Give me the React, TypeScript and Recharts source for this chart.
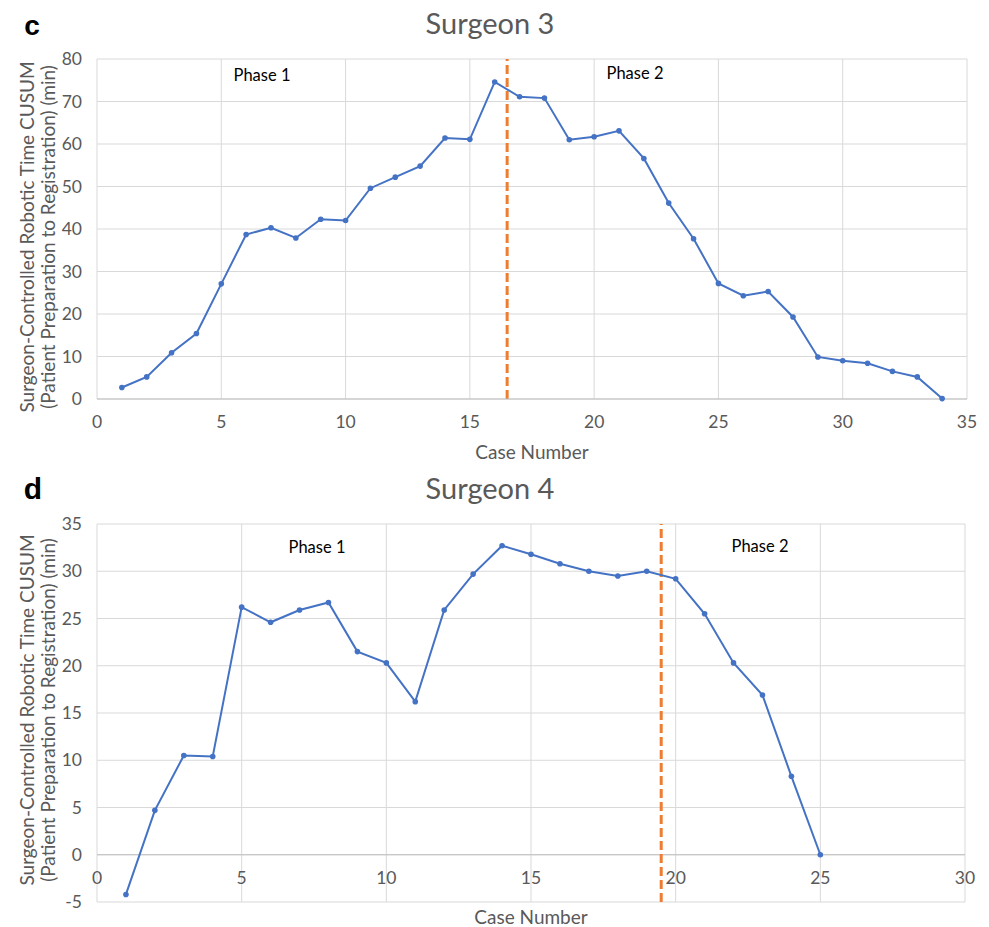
import { LineChart, Line, XAxis, YAxis, CartesianGrid, ReferenceLine, Label } from 'recharts';

// Surgeon 3
const cases3 = [1, 2, 3, 4, 5, 6, 7, 8, 9, 10, 11, 12, 13, 14, 15, 16, 17, 18, 19, 20, 21, 22, 23, 24, 25, 26, 27, 28, 29, 30, 31, 32, 33, 34];
const cusum3 = [2.7, 5.2, 10.9, 15.4, 27.1, 38.7, 40.3, 37.9, 42.3, 42.0, 49.6, 52.2, 54.8, 61.4, 61.1, 74.6, 71.1, 70.8, 61.0, 61.7, 63.1, 56.6, 46.1, 37.7, 27.2, 24.3, 25.3, 19.3, 9.9, 9.0, 8.4, 6.5, 5.2, 0.1];
const xTicks3 = [0, 5, 10, 15, 20, 25, 30, 35];
const yTicks3 = [0, 10, 20, 30, 40, 50, 60, 70, 80];
const phaseCut3 = 16.5;

// Surgeon 4
const cases4 = [1, 2, 3, 4, 5, 6, 7, 8, 9, 10, 11, 12, 13, 14, 15, 16, 17, 18, 19, 20, 21, 22, 23, 24, 25];
const cusum4 = [-4.2, 4.7, 10.5, 10.4, 26.2, 24.6, 25.9, 26.7, 21.5, 20.3, 16.2, 25.9, 29.7, 32.7, 31.8, 30.8, 30.0, 29.5, 30.0, 29.2, 25.5, 20.3, 16.9, 8.3, 0.0];
const xTicks4 = [0, 5, 10, 15, 20, 25, 30];
const yTicks4 = [-5, 0, 5, 10, 15, 20, 25, 30, 35];
const phaseCut4 = 19.5;

const data3 = cases3.map((c, i) => ({ caseNo: c, cusum: cusum3[i] }));
const data4 = cases4.map((c, i) => ({ caseNo: c, cusum: cusum4[i] }));

const FONT = 'Lato, "Open Sans", sans-serif';
const GREY = '#595959';
const GRID = '#d9d9d9';
const BLUE = '#4472c4';
const ORANGE = '#ed7d31';

const yLabel = (shift: number) => (props: any) => {
  const vb = props.viewBox;
  const cy = vb.y + vb.height / 2 + shift;
  const x1 = vb.x + 26;
  const x2 = vb.x + 47;
  const style = { fontFamily: FONT, fontSize: 19, fill: GREY };
  return (
    <g>
      <text x={x1} y={cy} transform={`rotate(-90 ${x1} ${cy})`} textAnchor="middle" dominantBaseline="central" style={style}>
        Surgeon-Controlled Robotic Time CUSUM
      </text>
      <text x={x2} y={cy} transform={`rotate(-90 ${x2} ${cy})`} textAnchor="middle" dominantBaseline="central" style={style}>
        (Patient Preparation to Registration) (min)
      </text>
    </g>
  );
};

const xLabel = (drop: number) => (props: any) => {
  const vb = props.viewBox;
  return (
    <text x={vb.x + vb.width / 2} y={vb.y + drop} textAnchor="middle" dominantBaseline="central" style={{ fontFamily: FONT, fontSize: 19, fill: GREY }}>
      Case Number
    </text>
  );
};

// bottom chart: tick labels sit under the zero line, not under the -5 border
const PLOT4_H = 378;
const zeroShift = (PLOT4_H * (0 - yTicks4[0])) / (yTicks4[yTicks4.length - 1] - yTicks4[0]);

const RaisedTick = (props: any) => {
  const { x, y, payload } = props;
  return (
    <text x={x} y={y - zeroShift} dy="0.71em" textAnchor="middle" style={{ fontFamily: FONT, fontSize: 17.5, fill: GREY }}>
      {payload.value}
    </text>
  );
};

const tickStyle = { fontFamily: FONT, fontSize: 17.5, fill: GREY };

const phaseStyle: React.CSSProperties = {
  position: 'absolute',
  fontFamily: FONT,
  fontSize: 16.5,
  color: '#000',
  whiteSpace: 'nowrap',
  transform: 'translate(-50%, -50%)',
};

const titleStyle: React.CSSProperties = {
  position: 'absolute',
  fontFamily: FONT,
  fontSize: 29,
  color: GREY,
  whiteSpace: 'nowrap',
  transform: 'translate(-50%, -50%)',
};

const letterStyle: React.CSSProperties = {
  position: 'absolute',
  fontFamily: 'Arial, "Liberation Sans", sans-serif',
  fontWeight: 'bold',
  fontSize: 30,
  color: '#000',
  transform: 'translate(-50%, -50%)',
};

export default function App() {
  return (
    <div style={{ position: 'absolute', left: 0, top: 0, width: 989, height: 927, background: '#fff' }}>
      <div style={{ position: 'absolute', left: 0, top: 0 }}>
        <LineChart width={989} height={465} data={data3} margin={{ top: 59, right: 22, bottom: 0, left: 0 }}>
          <CartesianGrid stroke={GRID} />
          <XAxis
            dataKey="caseNo"
            type="number"
            domain={[0, 35]}
            ticks={xTicks3}
            height={66}
            tickSize={0}
            tickMargin={17}
            tick={tickStyle}
            axisLine={{ stroke: '#bfbfbf' }}
            tickLine={false}
          >
            <Label content={xLabel(52)} />
          </XAxis>
          <YAxis
            type="number"
            domain={[0, 80]}
            ticks={yTicks3}
            width={97}
            tickSize={0}
            tickMargin={15}
            tick={tickStyle}
            axisLine={false}
            tickLine={false}
          >
            <Label content={yLabel(8)} />
          </YAxis>
          <ReferenceLine x={phaseCut3} stroke={ORANGE} strokeWidth={3} strokeDasharray="9 4" />
          <Line
            dataKey="cusum"
            stroke={BLUE}
            strokeWidth={2}
            dot={{ r: 2.8, fill: BLUE, stroke: BLUE, strokeWidth: 0 }}
            activeDot={false}
            isAnimationActive={false}
          />
        </LineChart>
      </div>

      <div style={{ position: 'absolute', left: 0, top: 465 }}>
        <LineChart width={989} height={462} data={data4} margin={{ top: 59, right: 24, bottom: 0, left: 0 }}>
          <CartesianGrid stroke={GRID} />
          <XAxis
            dataKey="caseNo"
            type="number"
            domain={[0, 30]}
            ticks={xTicks4}
            height={25}
            tickSize={0}
            tickMargin={17}
            tick={<RaisedTick />}
            axisLine={false}
            tickLine={false}
          >
            <Label content={xLabel(14)} />
          </XAxis>
          <YAxis
            type="number"
            domain={[-5, 35]}
            ticks={yTicks4}
            width={97}
            tickSize={0}
            tickMargin={15}
            tick={tickStyle}
            axisLine={false}
            tickLine={false}
          >
            <Label content={yLabel(-3)} />
          </YAxis>
          <ReferenceLine y={0} stroke="#bfbfbf" strokeWidth={1} />
          <ReferenceLine x={phaseCut4} stroke={ORANGE} strokeWidth={3} strokeDasharray="9 4" />
          <Line
            dataKey="cusum"
            stroke={BLUE}
            strokeWidth={2}
            dot={{ r: 2.8, fill: BLUE, stroke: BLUE, strokeWidth: 0 }}
            activeDot={false}
            isAnimationActive={false}
          />
        </LineChart>
      </div>

      <div style={{ ...letterStyle, left: 32, top: 26, fontSize: 28 }}>c</div>
      <div style={{ ...letterStyle, left: 33, top: 489 }}>d</div>
      <div style={{ ...titleStyle, left: 490, top: 22 }}>Surgeon 3</div>
      <div style={{ ...titleStyle, left: 490, top: 487 }}>Surgeon 4</div>

      <div style={{ ...phaseStyle, left: 262, top: 75 }}>Phase 1</div>
      <div style={{ ...phaseStyle, left: 635, top: 73 }}>Phase 2</div>
      <div style={{ ...phaseStyle, left: 317, top: 547 }}>Phase 1</div>
      <div style={{ ...phaseStyle, left: 760, top: 546 }}>Phase 2</div>
    </div>
  );
}
